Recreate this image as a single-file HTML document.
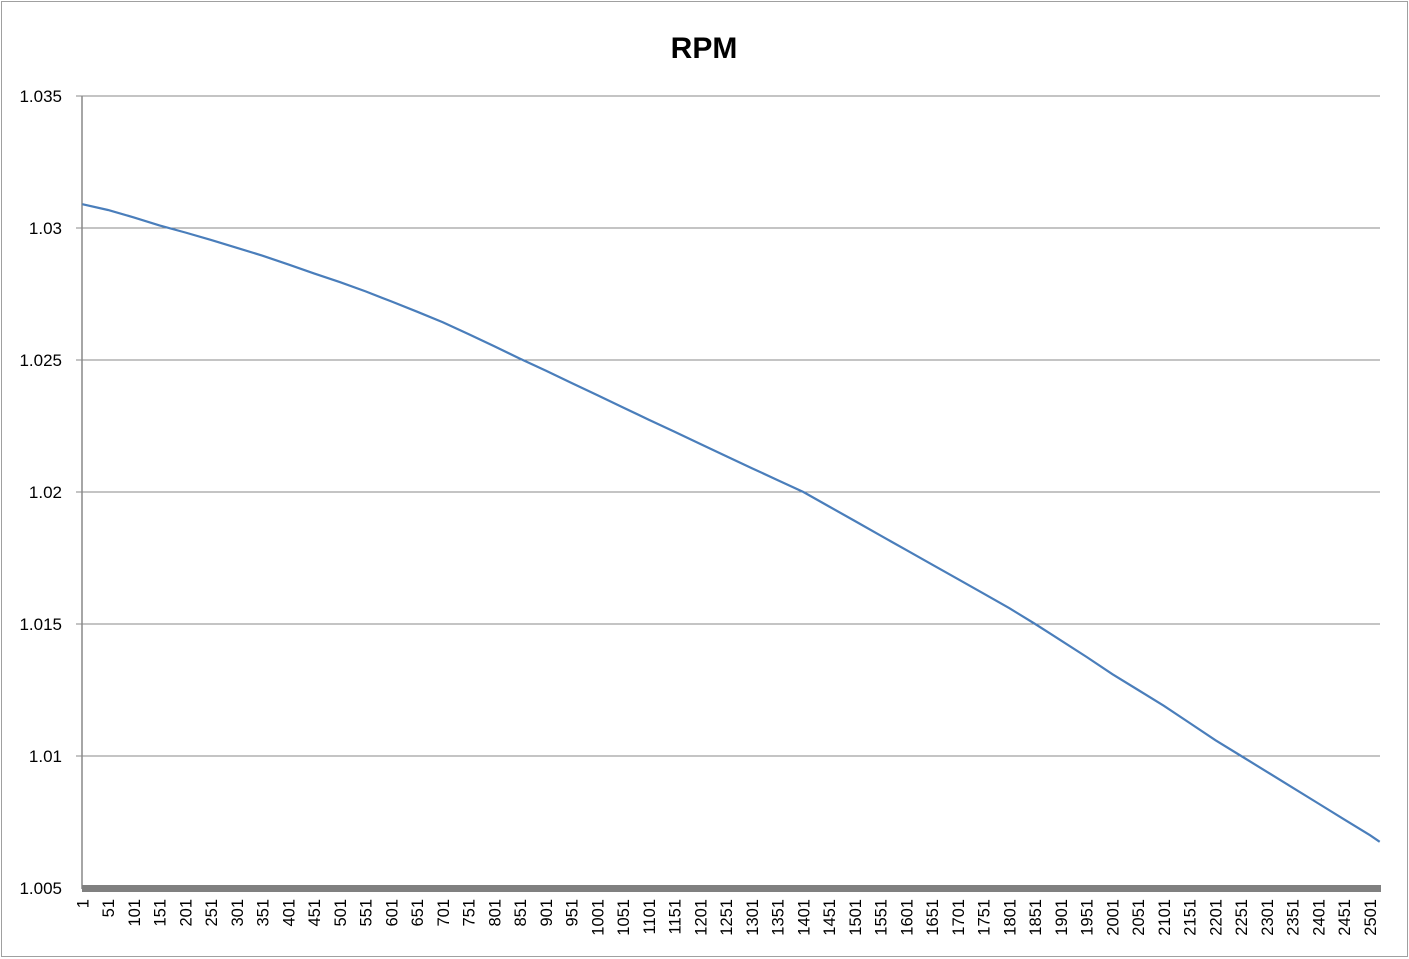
<!DOCTYPE html>
<html><head><meta charset="utf-8"><style>
html,body{margin:0;padding:0;background:#fff}
svg{display:block;font-family:"Liberation Sans",Arial,sans-serif}
</style></head><body>
<svg id="chart" width="1409" height="959" viewBox="0 0 1409 959" xmlns="http://www.w3.org/2000/svg">
<rect x="1.5" y="1.5" width="1406" height="955" fill="#fff" stroke="#a0a0a0" stroke-width="1"/>
<text x="704" y="58" text-anchor="middle" font-size="30" font-weight="bold" fill="#000">RPM</text>
<g id="grid"></g>
<g id="ylab"></g>
<g id="xlab"></g>
<line x1="82" y1="96" x2="82" y2="889" stroke="#888" stroke-width="1.5"/>
<rect x="82" y="885" width="1299" height="7" fill="#808080"/>
<polyline id="series" fill="none" stroke="#4a7ebb" stroke-width="2.2"/>
</svg>
<script>
const yTicks=[1.005,1.01,1.015,1.02,1.025,1.03,1.035];
const yTickLabels=["1.005","1.01","1.015","1.02","1.025","1.03","1.035"];
const xIdx=[1,51,101,151,201,251,301,351,401,451,501,551,601,651,701,751,801,851,901,951,1001,1051,1101,1151,1201,1251,1301,1351,1401,1451,1501,1551,1601,1651,1701,1751,1801,1851,1901,1951,2001,2051,2101,2151,2201,2251,2301,2351,2401,2451,2501,2520];
const rpm=[1.0309,1.03068,1.0304,1.0301,1.02983,1.02955,1.02925,1.02895,1.02862,1.02828,1.02795,1.0276,1.02722,1.02683,1.02643,1.02598,1.02552,1.02505,1.0246,1.02413,1.02367,1.0232,1.02274,1.02228,1.02182,1.02136,1.0209,1.02045,1.0200,1.01945,1.0189,1.01835,1.0178,1.01725,1.0167,1.01615,1.0156,1.0150,1.01438,1.01375,1.0131,1.0125,1.0119,1.01125,1.0106,1.0100,1.0094,1.0088,1.0082,1.0076,1.0070,1.00675];
const nCat=2520;
const X0=82,X1=1380,Y0=888,Y1=96,VMIN=1.005,VMAX=1.035;
const xs=i=>X0+(i-0.5)/nCat*(X1-X0);
const ys=v=>Y0-(v-VMIN)/(VMAX-VMIN)*(Y0-Y1);
const NS="http://www.w3.org/2000/svg";
const grid=document.getElementById('grid'),yl=document.getElementById('ylab'),xl=document.getElementById('xlab');
yTicks.forEach((t,k)=>{
  const y=ys(t);
  if(k>0){const l=document.createElementNS(NS,'line');
  
  
  l.setAttribute('x1',X0-6);l.setAttribute('x2',X1);l.setAttribute('y1',y);l.setAttribute('y2',y);
  l.setAttribute('stroke','#888');l.setAttribute('stroke-width','1');grid.appendChild(l);}
  const tx=document.createElementNS(NS,'text');
  
  
  tx.setAttribute('x',62);tx.setAttribute('y',y+6);tx.setAttribute('text-anchor','end');tx.setAttribute('font-size','17');
  tx.textContent=yTickLabels[k];yl.appendChild(tx);
});
for(let i=1;i<=nCat;i+=50){
  const x=xs(i)+6;
  const tx=document.createElementNS(NS,'text');
  
  
  tx.setAttribute('transform','translate('+x+',899) rotate(-90)');
  tx.setAttribute('text-anchor','end');tx.setAttribute('font-size','16.5');
  tx.textContent=String(i);xl.appendChild(tx);
}
document.getElementById('series').setAttribute('points',xIdx.map((i,k)=>xs(i).toFixed(1)+','+ys(rpm[k]).toFixed(1)).join(' '));
</script>
</body></html>
